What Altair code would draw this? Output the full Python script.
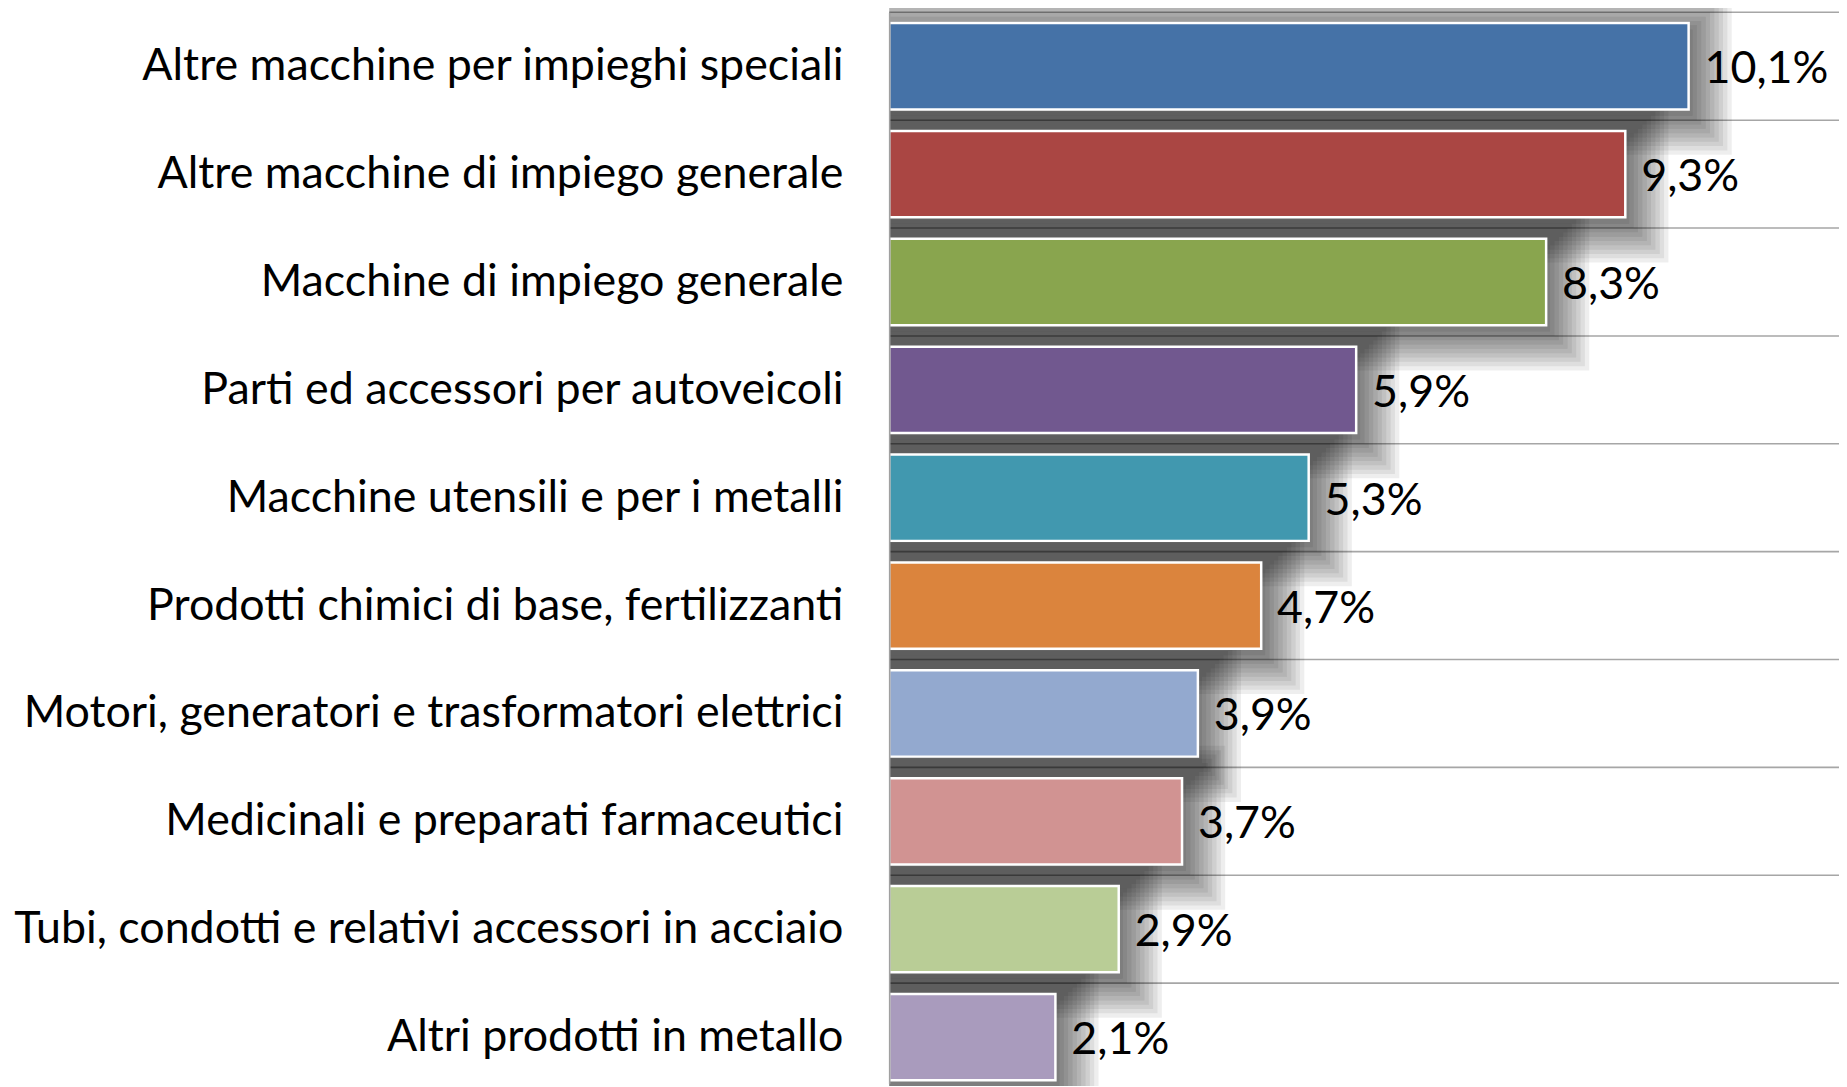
import altair as alt
import pandas as pd

# ---- data ----
names = [
    "Altre macchine per impieghi speciali",
    "Altre macchine di impiego generale",
    "Macchine di impiego generale",
    "Parti ed accessori per autoveicoli",
    "Macchine utensili e per i metalli",
    "Prodotti chimici di base, fertilizzanti",
    "Motori, generatori e trasformatori elettrici",
    "Medicinali e preparati farmaceutici",
    "Tubi, condotti e relativi accessori in acciaio",
    "Altri prodotti in metallo",
]
values = [10.1, 9.3, 8.3, 5.9, 5.3, 4.7, 3.9, 3.7, 2.9, 2.1]
colors = ["#4572A7", "#AA4643", "#89A54E", "#71588F", "#4198AF",
          "#DB843D", "#93A9CF", "#D19392", "#B9CD96", "#A99BBD"]

df = pd.DataFrame({"idx": list(range(len(names))), "name": names,
                   "value": values, "color": colors})

FONT = "Lato"
FS = 45
W, H = 955, 1077
Y_DOMAIN = [0, 9.93]
X_DOMAIN = [0, 12]

xs = alt.Scale(domain=X_DOMAIN, nice=False, zero=False)
ys = alt.Scale(domain=Y_DOMAIN, nice=False, zero=False, reverse=True)

base = alt.Chart(df).transform_calculate(
    top="datum.idx + 0.1", bot="datum.idx + 0.9", mid="datum.idx + 0.5",
    x0="0", xend="12",
    lbl="replace(format(datum.value, '.1f'), '.', ',') + '%'",
)

# gridlines at row boundaries (top of each row) + left axis line
grid = base.mark_rule(color="#a6a6a6", strokeWidth=1.6).encode(
    x=alt.X("x0:Q", scale=xs, axis=None),
    x2="xend:Q",
    y=alt.Y("idx:Q", scale=ys,
            axis=alt.Axis(labels=False, grid=False, ticks=False,
                          domain=True, domainColor="#a0a0a0", domainWidth=1.6,
                          title=None, zindex=1)),
)

# soft drop shadows under bars (stacked translucent rectangles)
shadows = []
for k in range(10):
    ex = 0.055 * k
    ey = 0.04 * k
    shadows.append(
        base.transform_calculate(
            sx1="0", sx2=f"datum.value + 0.05 + {ex}",
            sy1=f"datum.idx + 0.16 - {ey}", sy2=f"datum.idx + 0.96 + {ey}",
        ).mark_rect(color="#000000", opacity=0.065).encode(
            x=alt.X("sx1:Q", scale=xs), x2="sx2:Q",
            y=alt.Y("sy1:Q", scale=ys), y2="sy2:Q",
        )
    )

bars = base.mark_rect(stroke="#ffffff", strokeWidth=2.5).encode(
    x=alt.X("x0:Q", scale=xs), x2="value:Q",
    y=alt.Y("top:Q", scale=ys), y2="bot:Q",
    color=alt.Color("color:N", scale=None),
)

clabels = base.mark_text(align="right", baseline="middle", dx=-46, dy=0,
                         font=FONT, fontSize=FS, color="#000000").encode(
    x=alt.X("x0:Q", scale=xs),
    y=alt.Y("mid:Q", scale=ys),
    text="name:N",
)

vlabels = base.mark_text(align="left", baseline="middle", dx=16, dy=3,
                         font=FONT, fontSize=FS, color="#000000").encode(
    x=alt.X("value:Q", scale=xs),
    y=alt.Y("mid:Q", scale=ys),
    text="lbl:N",
)

chart = alt.layer(grid, *shadows, bars, clabels, vlabels).properties(
    width=W, height=H,
    padding={"left": 886, "top": 1.4, "right": 0, "bottom": 0},
    autosize="none",
    background="#ffffff",
).configure_view(stroke=None)

chart.save("out.html", embed_options={"renderer": "svg", "actions": False})
